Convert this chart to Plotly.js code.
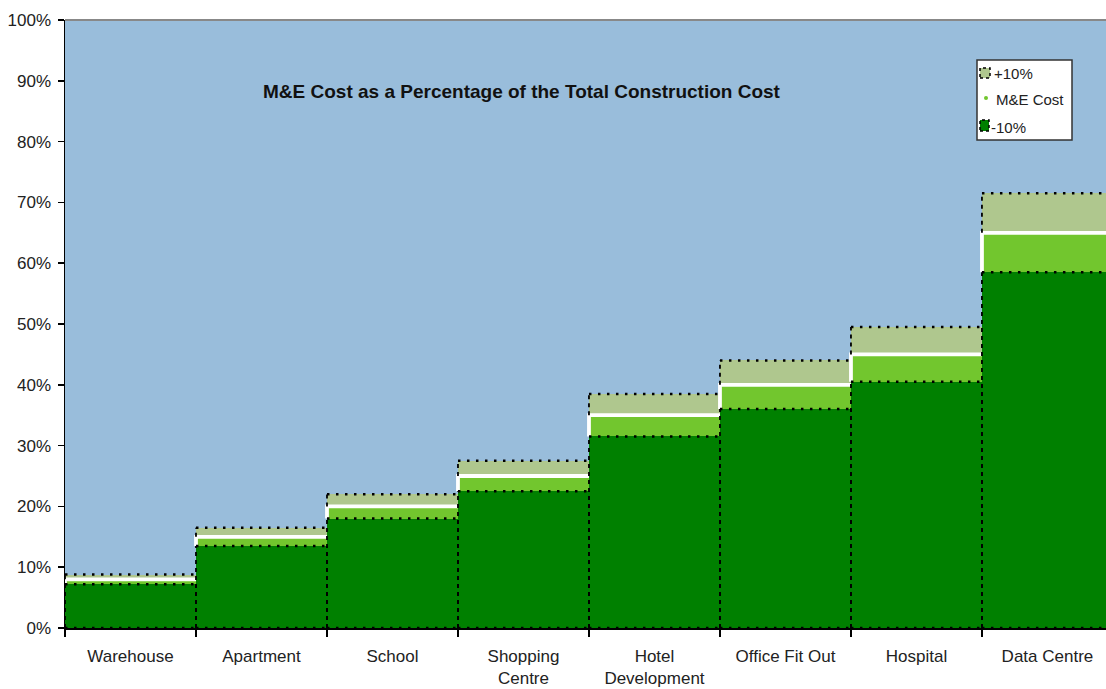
<!DOCTYPE html>
<html>
<head>
<meta charset="utf-8">
<script src="https://cdn.plot.ly/plotly-3.0.1.min.js"></script>
<style>html,body{margin:0;padding:0;background:#fff;}#chart{width:1106px;height:689px;}</style>
</head>
<body>
<div id="chart"></div>
<script>
const categories = ['Warehouse', 'Apartment', 'School', 'Shopping<br>Centre', 'Hotel<br>Development', 'Office Fit Out', 'Hospital', 'Data Centre'];
const meCost  = [8, 15, 20, 25, 35, 40, 45, 65];
const minus10 = [7.2, 13.5, 18, 22.5, 31.5, 36, 40.5, 58.5];
const plus10  = [8.8, 16.5, 22, 27.5, 38.5, 44, 49.5, 71.5];
const yTicks = [0, 10, 20, 30, 40, 50, 60, 70, 80, 90, 100];
const legendNames = ['+10%', 'M&amp;E Cost', '-10%'];

const C_SAGE = '#AFC78E';
const C_LIGHT = '#72C62E';
const C_DARK = '#008000';
const FONT = 'Liberation Sans, Arial, sans-serif';
const XR = [-0.5, 7.447];

// plot-area geometry (pixels) for placing the hand-drawn legend
const PL = 65, PW = 1041, PT = 20, PH = 608;
const px = v => (v - PL) / PW;
const py = v => (PT + PH - v) / PH;

const traces = [];
traces.push({type: 'bar', x: categories, y: plus10, width: 1, marker: {color: C_SAGE, line: {width: 0}}, showlegend: false, hoverinfo: 'skip'});
traces.push({type: 'bar', x: categories, y: meCost, width: 1, marker: {color: C_LIGHT, line: {width: 0}}, showlegend: false, hoverinfo: 'skip'});
traces.push({type: 'bar', x: categories, y: minus10, width: 1, marker: {color: C_DARK, line: {width: 0}}, showlegend: false, hoverinfo: 'skip'});

function hLines(vals) {
  const x = [], y = [];
  vals.forEach((v, i) => { x.push(i - 0.5, i + 0.5, null); y.push(v, v, null); });
  return {x, y};
}
function vLines(lo, hi, both) {
  const x = [], y = [];
  hi.forEach((v, i) => {
    x.push(i - 0.5, i - 0.5, null); y.push(lo[i], v, null);
    if (both) { x.push(i + 0.5, i + 0.5, null); y.push(lo[i], v, null); }
  });
  return {x, y};
}
const zeros = categories.map(() => 0);

(function () {
  const x = [], y = [];
  meCost.forEach((v, i) => { x.push(i - 0.5, i - 0.5, i + 0.5, null); y.push(minus10[i], v, v, null); });
  traces.push({type: 'scatter', mode: 'lines', xaxis: 'x2', x, y, line: {color: '#ffffff', width: 3.8}, showlegend: false, hoverinfo: 'skip'});
})();

const dotStyle = {color: '#000', width: 2.5, dash: '2.5px,6.5px'};
const dashStyle = {color: '#000', width: 1.8, dash: '4px,4px'};
let h = hLines(plus10);
traces.push({type: 'scatter', mode: 'lines', xaxis: 'x2', x: h.x, y: h.y, line: dotStyle, showlegend: false, hoverinfo: 'skip'});
h = hLines(minus10);
traces.push({type: 'scatter', mode: 'lines', xaxis: 'x2', x: h.x, y: h.y, line: dotStyle, showlegend: false, hoverinfo: 'skip'});
h = hLines(zeros);
traces.push({type: 'scatter', mode: 'lines', xaxis: 'x2', x: h.x, y: h.y, line: dotStyle, showlegend: false, hoverinfo: 'skip'});
let v = vLines(meCost, plus10, false);
traces.push({type: 'scatter', mode: 'lines', xaxis: 'x2', x: v.x, y: v.y, line: dashStyle, showlegend: false, hoverinfo: 'skip'});
v = vLines(zeros, minus10, true);
traces.push({type: 'scatter', mode: 'lines', xaxis: 'x2', x: v.x, y: v.y, line: dashStyle, showlegend: false, hoverinfo: 'skip'});

// hand-drawn legend (box, swatches, labels)
const shapes = [
  {type: 'line', xref: 'paper', yref: 'paper', x0: 0, x1: 1, y0: 1, y1: 1, line: {color: '#888', width: 2}},
  {type: 'rect', xref: 'paper', yref: 'paper', x0: px(977), x1: px(1072), y0: py(140), y1: py(60),
   fillcolor: '#ffffff', line: {color: '#333', width: 1.5}, layer: 'above'},
  {type: 'rect', xref: 'paper', yref: 'paper', x0: px(980), x1: px(990), y0: py(78), y1: py(68),
   fillcolor: C_SAGE, line: {color: '#000', width: 1.5, dash: 'dot'}, layer: 'above'},
  {type: 'circle', xref: 'paper', yref: 'paper', x0: px(984), x1: px(988), y0: py(100), y1: py(96),
   fillcolor: C_LIGHT, line: {width: 0}, layer: 'above'},
  {type: 'rect', xref: 'paper', yref: 'paper', x0: px(980), x1: px(989), y0: py(131), y1: py(120),
   fillcolor: C_DARK, line: {color: '#000', width: 1.5, dash: 'dot'}, layer: 'above'}
];
const legY = [73, 100, 127];
const legX = [992, 994, 989];
const annotations = [
  {xref: 'paper', yref: 'paper', x: 0.439, y: 0.883, xanchor: 'center', yanchor: 'middle', showarrow: false,
   text: '<b>M&amp;E Cost as a Percentage of the Total Construction Cost</b>',
   font: {family: FONT, size: 19, color: '#111'}}
];
legendNames.forEach((n, i) => annotations.push({
  xref: 'paper', yref: 'paper', x: px(legX[i]), y: py(legY[i]), xanchor: 'left', yanchor: 'middle',
  showarrow: false, text: n, font: {family: FONT, size: 15, color: '#222'}
}));

const layout = {
  width: 1106, height: 689,
  margin: {l: 65, r: 0, t: 20, b: 61, pad: 0},
  paper_bgcolor: '#ffffff',
  plot_bgcolor: '#99BDDB',
  barmode: 'overlay',
  bargap: 0,
  font: {family: FONT, size: 17, color: '#222'},
  showlegend: false,
  xaxis: {
    type: 'category', categoryorder: 'array', categoryarray: categories,
    range: XR, tickson: 'boundaries', ticks: 'outside', ticklen: 7, tickwidth: 1.5, tickcolor: '#000',
    ticklabelstandoff: 12,
    showline: true, linecolor: '#000', linewidth: 1.5, showgrid: false, zeroline: false,
    tickfont: {family: FONT, size: 17, color: '#222'}
  },
  xaxis2: {overlaying: 'x', type: 'linear', range: XR, visible: false, showgrid: false, zeroline: false},
  yaxis: {
    range: [0, 100], tickvals: yTicks, ticktext: yTicks.map(t => t + '%'),
    ticks: 'outside', ticklen: 6, tickwidth: 1.5, tickcolor: '#000', ticklabelstandoff: 3,
    showline: true, linecolor: '#000', linewidth: 1.5, showgrid: false, zeroline: false,
    tickfont: {family: FONT, size: 17, color: '#222'}
  },
  shapes: shapes,
  annotations: annotations
};

Plotly.newPlot('chart', traces, layout, {staticPlot: true, displayModeBar: false});
</script>
</body>
</html>
